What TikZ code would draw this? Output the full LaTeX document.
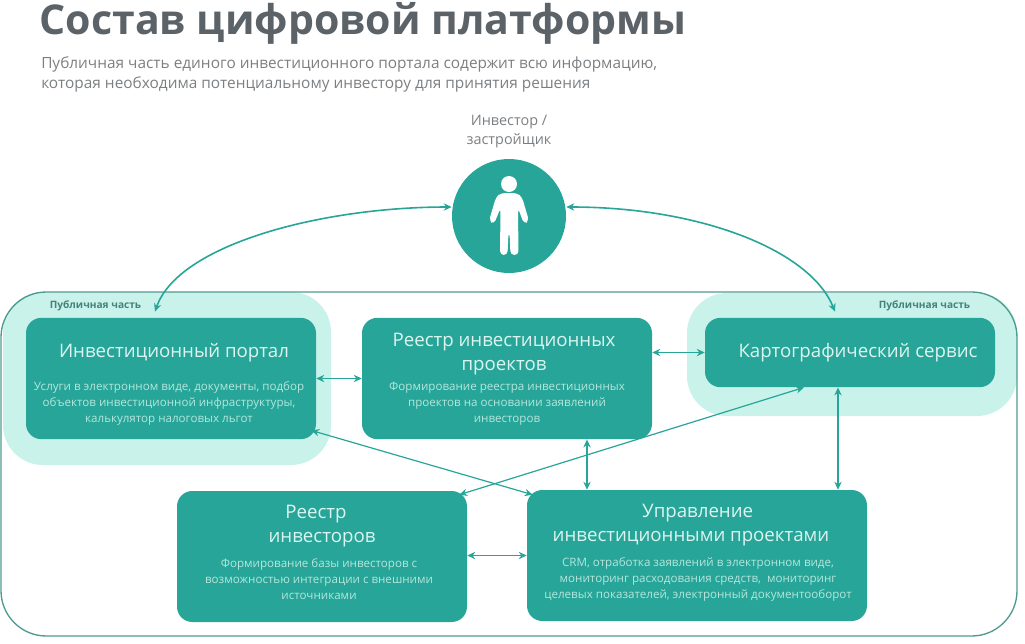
\documentclass[tikz,border=0pt]{standalone}
\usepackage{fontspec}
\usepackage{xcolor}
\usepackage{tikz}
\usetikzlibrary{arrows.meta}
\setmainfont{Open Sans}
\definecolor{tealbox}{HTML}{27A598}
\definecolor{tealhalo}{HTML}{C9F2EB}
\definecolor{tealframe}{HTML}{4F9A90}
\definecolor{tealtitle}{HTML}{DDF5F0}
\definecolor{tealdesc}{HTML}{B4E6DD}
\definecolor{titlegray}{HTML}{5B6268}
\definecolor{textgray}{HTML}{7C7F82}
\tikzset{
    boxnode/.style={fill=tealbox, rounded corners=11.5pt, inner sep=0pt},
    halonode/.style={fill=tealhalo, rounded corners=30pt, inner sep=0pt},
    titletext/.style={text=tealtitle, align=center, font=\fontsize{14pt}{17.4pt}\selectfont},
    desctext/.style={text=tealdesc, align=center, font=\fontsize{8.7pt}{12pt}\selectfont},
    parttext/.style={text=tealframe!85!black, font=\fontsize{7.6pt}{9pt}\selectfont\bfseries},
    link/.style={<->, draw=tealbox, line width=0.9pt},
    bend link/.style={link, line width=1.2pt},
}
\begin{document}
\begin{tikzpicture}[>={Stealth[length=6pt,width=5.5pt]}, x=0.75pt, y=-0.75pt]
    \useasboundingbox (0, 0) rectangle (1025, 643);
    \node (heading) at (363, 23) {\fontsize{30.8pt}{34pt}\selectfont\bfseries\color{titlegray}Состав цифровой платформы};
    \node (lead) [anchor=north west, inner sep=0pt, align=left, text=textgray, font=\fontsize{11.55pt}{15pt}\selectfont] at (41, 56) {Публичная часть единого инвестиционного портала содержит всю информацию,\\которая необходима потенциальному инвестору для принятия решения};

    \node (halol) [halonode, minimum width=246pt, minimum height=129.75pt] at (167, 378.5) {};
    \node (halor) [halonode, minimum width=247.5pt, minimum height=92.25pt] at (852, 354.5) {};
    \node (frame) [draw=tealframe, line width=1pt, rounded corners=34pt, minimum width=762pt, minimum height=258pt, inner sep=0pt] at (509, 464) {};

    \node (investor) [text=textgray, align=center, font=\fontsize{10.8pt}{14.2pt}\selectfont] at (509, 132) {Инвестор /\\застройщик};
    \node (person) [circle, fill=tealbox, minimum size=85.5pt, inner sep=0pt] at (509, 216) {};
    \fill [white] (509, 184) circle (8);
    \fill [white, rounded corners=3pt] (501, 193) -- (517, 193) -- (522, 197) -- (529, 221) -- (524, 224) -- (518, 208) -- (518.5, 255) -- (510.5, 255) -- (509.5, 232) -- (508.5, 232) -- (507.5, 255) -- (500, 255) -- (500.5, 208) -- (494, 224) -- (489, 221) -- (496, 197) -- cycle;

    \node (portal) [boxnode, minimum width=217.5pt, minimum height=91pt] at (171, 378.5) {};
    \node (registry) [boxnode, minimum width=217.5pt, minimum height=91pt] at (507, 378.5) {};
    \node (map) [boxnode, minimum width=217.5pt, minimum height=52pt] at (850, 352.5) {};
    \node (investors) [boxnode, minimum width=217.5pt, minimum height=98.25pt] at (322, 556.5) {};
    \node (manage) [boxnode, minimum width=255pt, minimum height=98.25pt] at (697, 555.5) {};

    \node (publicl) [parttext] at (95.5, 306) {Публичная часть};
    \node (publicr) [parttext] at (924.5, 306) {Публичная часть};

    \node (portalt) [titletext] at (174, 353) {Инвестиционный портал};
    \node (portald) [desctext] at (169, 403) {Услуги в электронном виде, документы, подбор\\объектов инвестиционной инфраструктуры,\\калькулятор налоговых льгот};
    \node (registryt) [titletext] at (504, 354) {Реестр инвестиционных\\проектов};
    \node (registryd) [desctext] at (507, 404) {Формирование реестра инвестиционных\\проектов на основании заявлений\\инвесторов};
    \node (mapt) [titletext] at (858, 353) {Картографический сервис};
    \node (investorst) [titletext] at (322, 526) {Реестр\hspace*{9pt}\\инвесторов};
    \node (investorsd) [desctext] at (319, 579) {Формирование базы инвесторов с\\возможностью интеграции с внешними\\источниками};
    \node (managet) [titletext] at (691, 525) {\hspace*{10pt}Управление\\инвестиционными проектами};
    \node (managed) [desctext] at (698, 579) {CRM, отработка заявлений в электронном виде,\\мониторинг расходования средств,\ \ мониторинг\\целевых показателей, электронный документооборот};

    \draw [link] (portal.east) -- (registry.west);
    \draw [link] (registry.east |- map.west) -- (map.west);
    \draw [link] ([shift={(-5, -9)}]portal.south east) -- ([shift={(6, 5)}]manage.north west);
    \draw [link] ([xshift=-34.5pt]map.south) -- ([shift={(-8, 4)}]investors.north east);
    \draw [link] ([xshift=60pt]registry.south) -- ([xshift=60pt]registry.south |- manage.north);
    \draw [link] ([xshift=-9pt]map.south) -- ([xshift=-9pt]map.south |- manage.north);
    \draw [link] (investors.east |- manage.west) -- (manage.west);
    \draw [bend link] ([shift={(-16, -6)}]portal.north) .. controls (178, 245) and (320, 207) .. ([yshift=6.75pt]person.west);
    \draw [bend link] ([yshift=6.75pt]person.east) .. controls (700, 207) and (810, 250) .. ([shift={(-15, -6)}]map.north);
\end{tikzpicture}
\end{document}
